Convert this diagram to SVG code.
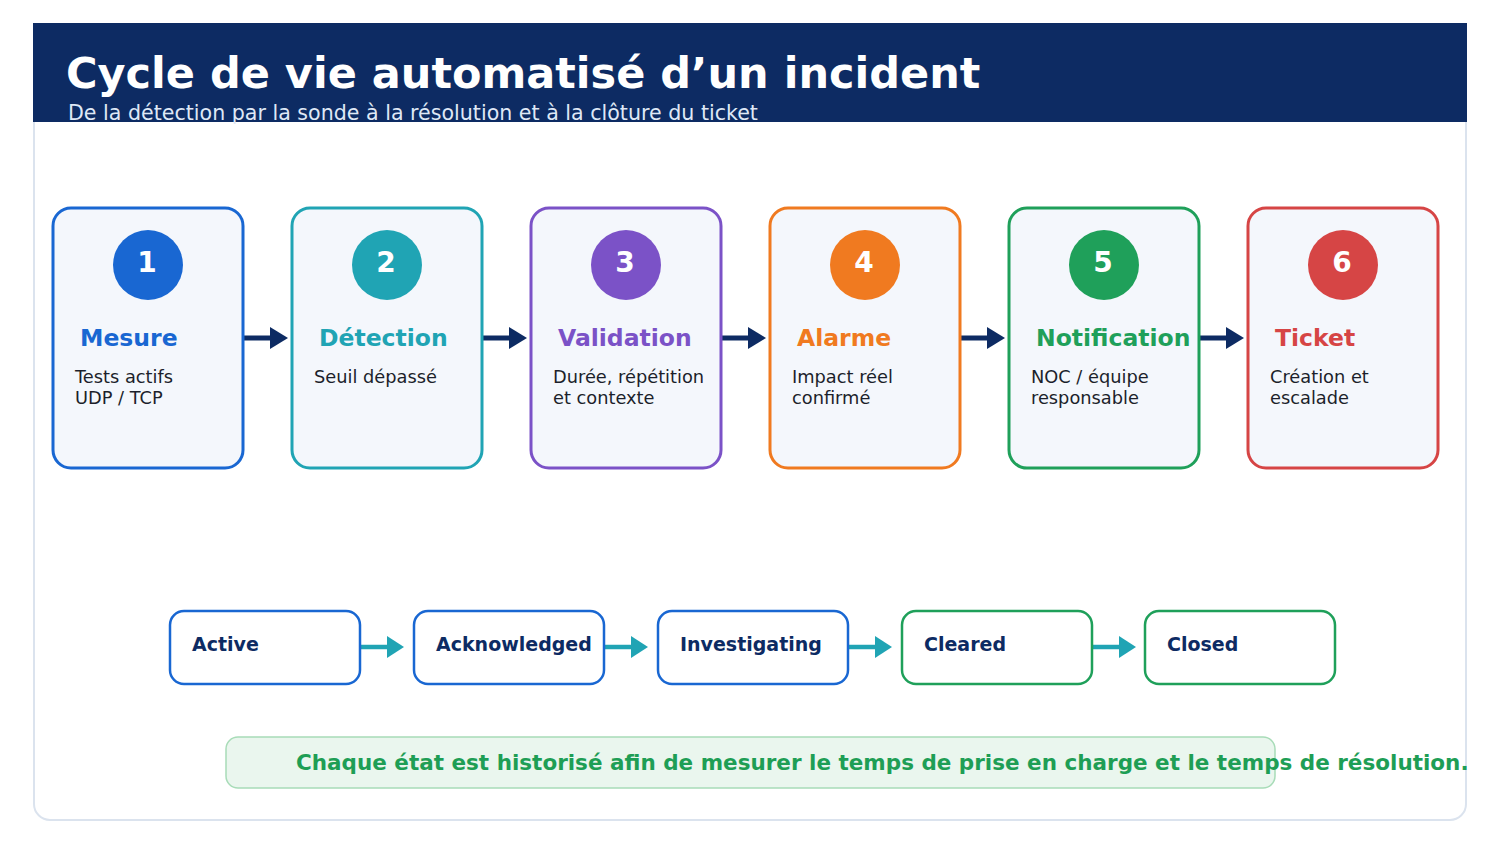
<svg xmlns="http://www.w3.org/2000/svg" width="1500" height="844" viewBox="0 0 1500 844">
<defs>
<style>
text{font-family:"DejaVu Sans","Liberation Sans",sans-serif}
.card{fill:#f4f7fc;stroke-width:3}
.num{font-size:28px;font-weight:bold;fill:#fff;text-anchor:middle}
.ttl{font-size:23.5px;font-weight:bold}
.desc{font-size:17.8px;fill:#1c1f2b}
.state{fill:#fff;stroke-width:2.5}
.stxt{font-size:19px;font-weight:bold;fill:#0d2b63}
.a1{stroke:#0d2b63;stroke-width:5}
.a2{stroke:#20a4b4;stroke-width:4.5}
</style>
<marker id="mh" viewBox="0 0 18 22" refX="0" refY="11" markerWidth="18" markerHeight="22" markerUnits="userSpaceOnUse" orient="auto"><path d="M0,0 L18,11 L0,22 Z" fill="#0d2b63"/></marker>
<marker id="mt" viewBox="0 0 17 22" refX="0" refY="11" markerWidth="17" markerHeight="22" markerUnits="userSpaceOnUse" orient="auto"><path d="M0,0 L17,11 L0,22 Z" fill="#20a4b4"/></marker>
</defs>
<rect x="0" y="0" width="1500" height="844" fill="#fff"/>
<rect x="34" y="24" width="1432" height="796" rx="16" fill="#fff" stroke="#dbe3ee" stroke-width="2"/>
<g id="header">
<rect x="33" y="23" width="1434" height="99" fill="#0d2b63"/>
<text x="66" y="88" font-size="43" font-weight="bold" fill="#fff">Cycle de vie automatisé d’un incident</text>
<text x="68" y="120" font-size="20.6" fill="#dfe8f6">De la détection par la sonde à la résolution et à la clôture du ticket</text>
</g>
<g id="connectors">
<line class="a1" x1="243" y1="338" x2="270" y2="338" marker-end="url(#mh)"/>
<line class="a1" x1="482" y1="338" x2="509" y2="338" marker-end="url(#mh)"/>
<line class="a1" x1="721" y1="338" x2="748" y2="338" marker-end="url(#mh)"/>
<line class="a1" x1="960" y1="338" x2="987" y2="338" marker-end="url(#mh)"/>
<line class="a1" x1="1199" y1="338" x2="1226" y2="338" marker-end="url(#mh)"/>
<line class="a2" x1="360" y1="647" x2="387" y2="647" marker-end="url(#mt)"/>
<line class="a2" x1="604" y1="647" x2="631" y2="647" marker-end="url(#mt)"/>
<line class="a2" x1="848" y1="647" x2="875" y2="647" marker-end="url(#mt)"/>
<line class="a2" x1="1092" y1="647" x2="1119" y2="647" marker-end="url(#mt)"/>
</g>
<g id="step1">
<rect class="card" x="53" y="208" width="190" height="260" rx="18" stroke="#1967d2"/>
<circle cx="148" cy="265" r="35" fill="#1967d2"/>
<text class="num" x="147" y="272">1</text>
<text class="ttl" x="80" y="346" fill="#1967d2">Mesure</text>
<text class="desc" x="75" y="383">Tests actifs</text>
<text class="desc" x="75" y="404">UDP / TCP</text>
</g>
<g id="step2">
<rect class="card" x="292" y="208" width="190" height="260" rx="18" stroke="#20a4b4"/>
<circle cx="387" cy="265" r="35" fill="#20a4b4"/>
<text class="num" x="386" y="272">2</text>
<text class="ttl" x="319" y="346" fill="#20a4b4">Détection</text>
<text class="desc" x="314" y="383">Seuil dépassé</text>
</g>
<g id="step3">
<rect class="card" x="531" y="208" width="190" height="260" rx="18" stroke="#7b52c7"/>
<circle cx="626" cy="265" r="35" fill="#7b52c7"/>
<text class="num" x="625" y="272">3</text>
<text class="ttl" x="558" y="346" fill="#7b52c7">Validation</text>
<text class="desc" x="553" y="383">Durée, répétition</text>
<text class="desc" x="553" y="404">et contexte</text>
</g>
<g id="step4">
<rect class="card" x="770" y="208" width="190" height="260" rx="18" stroke="#f07a20"/>
<circle cx="865" cy="265" r="35" fill="#f07a20"/>
<text class="num" x="864" y="272">4</text>
<text class="ttl" x="797" y="346" fill="#f07a20">Alarme</text>
<text class="desc" x="792" y="383">Impact réel</text>
<text class="desc" x="792" y="404">confirmé</text>
</g>
<g id="step5">
<rect class="card" x="1009" y="208" width="190" height="260" rx="18" stroke="#1fa05a"/>
<circle cx="1104" cy="265" r="35" fill="#1fa05a"/>
<text class="num" x="1103" y="272">5</text>
<text class="ttl" x="1036" y="346" fill="#1fa05a">Notification</text>
<text class="desc" x="1031" y="383">NOC / équipe</text>
<text class="desc" x="1031" y="404">responsable</text>
</g>
<g id="step6">
<rect class="card" x="1248" y="208" width="190" height="260" rx="18" stroke="#d64545"/>
<circle cx="1343" cy="265" r="35" fill="#d64545"/>
<text class="num" x="1342" y="272">6</text>
<text class="ttl" x="1275" y="346" fill="#d64545">Ticket</text>
<text class="desc" x="1270" y="383">Création et</text>
<text class="desc" x="1270" y="404">escalade</text>
</g>
<g id="state-active">
<rect class="state" x="170" y="611" width="190" height="73" rx="14" stroke="#1967d2"/>
<text class="stxt" x="192" y="651">Active</text>
</g>
<g id="state-acknowledged">
<rect class="state" x="414" y="611" width="190" height="73" rx="14" stroke="#1967d2"/>
<text class="stxt" x="436" y="651">Acknowledged</text>
</g>
<g id="state-investigating">
<rect class="state" x="658" y="611" width="190" height="73" rx="14" stroke="#1967d2"/>
<text class="stxt" x="680" y="651">Investigating</text>
</g>
<g id="state-cleared">
<rect class="state" x="902" y="611" width="190" height="73" rx="14" stroke="#1fa05a"/>
<text class="stxt" x="924" y="651">Cleared</text>
</g>
<g id="state-closed">
<rect class="state" x="1145" y="611" width="190" height="73" rx="14" stroke="#1fa05a"/>
<text class="stxt" x="1167" y="651">Closed</text>
</g>
<g id="note">
<rect x="226" y="737" width="1049" height="51" rx="12" fill="#eaf6ee" stroke="#a8dcb8" stroke-width="1.5"/>
<text x="296" y="770" font-size="21.5" font-weight="bold" fill="#1e9e55">Chaque état est historisé afin de mesurer le temps de prise en charge et le temps de résolution.</text>
</g>
</svg>
